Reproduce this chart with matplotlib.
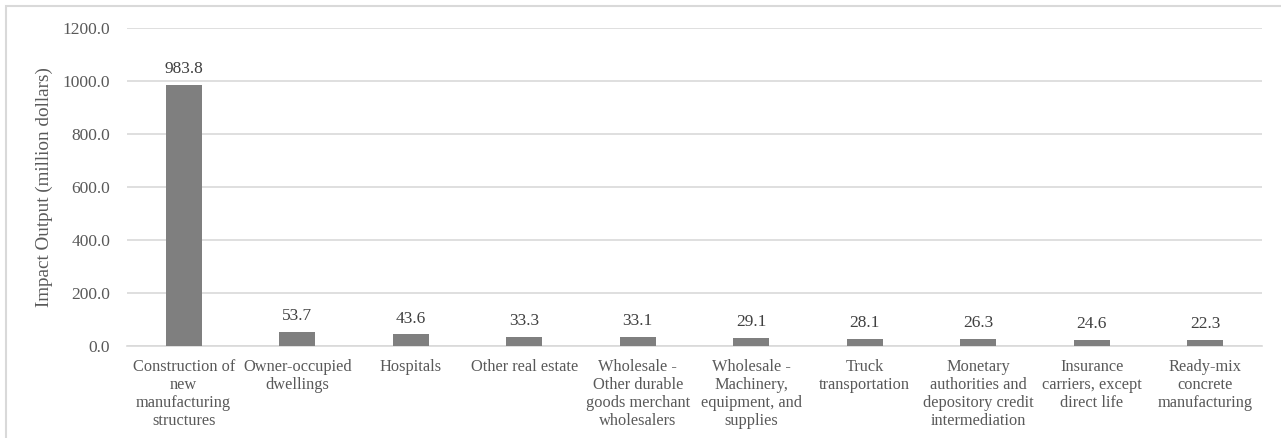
import numpy as np
import matplotlib.pyplot as plt
from matplotlib.patches import Rectangle

categories = ["Construction of\nnew\nmanufacturing\nstructures",
              "Owner-occupied\ndwellings",
              "Hospitals",
              "Other real estate",
              "Wholesale -\nOther durable\ngoods merchant\nwholesalers",
              "Wholesale -\nMachinery,\nequipment, and\nsupplies",
              "Truck\ntransportation",
              "Monetary\nauthorities and\ndepository credit\nintermediation",
              "Insurance\ncarriers, except\ndirect life",
              "Ready-mix\nconcrete\nmanufacturing"]
values = [983.8, 53.7, 43.6, 33.3, 33.1, 29.1, 28.1, 26.3, 24.6, 22.3]
yticks = [0, 200, 400, 600, 800, 1000, 1200]

plt.rcParams['font.family'] = ['Liberation Serif', 'DejaVu Serif']

fig = plt.figure(figsize=(12.81, 4.38), dpi=100)
fig.patches.append(Rectangle((6/1281, -0.1), 1.2, 1 - 6/438 + 0.1, transform=fig.transFigure,
                             fill=False, edgecolor="#d9d9d9", linewidth=1.5))
ax = fig.add_axes([0.0991, 0.210, 0.8861, 0.726])

x = np.arange(len(values))
bars = ax.bar(x, values, width=0.32, color="#7f7f7f", zorder=3)
for xi, v in zip(x, values):
    ax.text(xi, v + 30, f"{v:.1f}", ha="center", va="bottom", fontsize=12.5, color="#404040")

ax.set_xlim(-0.5, len(values) - 0.5)
ax.set_ylim(0, 1200)
ax.set_yticks(yticks)
ax.set_yticklabels([f"{t:.1f}" for t in yticks], fontsize=12.5, color="#595959")
ax.set_xticks(x)
ax.set_xticklabels(categories, fontsize=11.8, color="#595959", linespacing=1.18)
ax.tick_params(axis="both", length=0)
ax.tick_params(axis="y", pad=12)
ax.tick_params(axis="x", pad=9)
ax.set_ylabel("Impact Output (million dollars)", fontsize=13.8, color="#595959", labelpad=7)
ax.grid(axis="y", color="#d9d9d9", linewidth=1.2, zorder=0)
for s in ["top", "right", "left"]:
    ax.spines[s].set_visible(False)
ax.spines["bottom"].set_color("#d9d9d9")
ax.spines["bottom"].set_linewidth(1.2)

plt.savefig("out.png", dpi=100)
